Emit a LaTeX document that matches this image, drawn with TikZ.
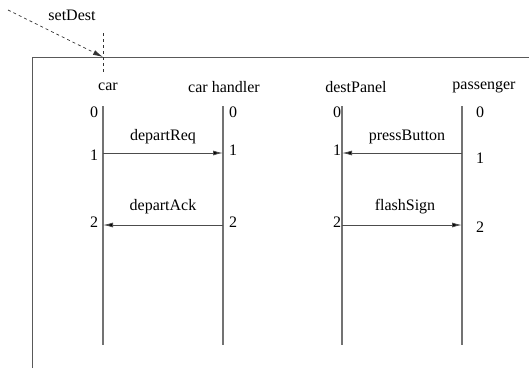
\documentclass[tikz,border=0pt]{standalone}
\usepackage{fontspec}
\setmainfont{Liberation Serif}
\usetikzlibrary{arrows.meta}

\begin{document}
\begin{tikzpicture}[x=1pt, y=-1pt,
    every node/.style={font=\fontsize{16}{18}\selectfont, inner sep=0pt},
    lifeline/.style={draw=black!55, line width=1.3pt},
    msg/.style={draw=black!70, line width=0.9pt, -{Latex[length=10pt,width=5pt,fill=black]}}]
  \useasboundingbox (0,0) rectangle (529,368);

  % frame of the scenario
  \draw[black!65, line width=0.9pt] (32,368) -- (32,57) -- (529,57);

  % incoming trigger
  \coordinate (entry) at (8,10);
  \coordinate (gate) at (103,57);
  \coordinate (gate top) at (103,33);
  \coordinate (gate bot) at (103,75);
  \node (setdest) at (72,15) {setDest};
  \draw[dashed, black!80, line width=0.7pt, -{Latex[length=10pt,width=5pt]}] (entry) -- (gate);
  \draw[dashed, black!80, line width=0.7pt] (gate top) -- (gate bot);

  % instances
  \node (car) at (108,87) {car};
  \node (handler) at (224,87) {car handler};
  \node (panel) at (356,87) {destPanel};
  \node (pass) at (484,87) {passenger};

  \coordinate (car top) at (103,106);
  \coordinate (car bot) at (103,345);
  \coordinate (handler top) at (223,106);
  \coordinate (handler bot) at (223,345);
  \coordinate (panel top) at (342,106);
  \coordinate (panel bot) at (342,345);
  \coordinate (pass top) at (462,106);
  \coordinate (pass bot) at (462,345);

  \draw[lifeline] (car top) -- (car bot);
  \draw[lifeline] (handler top) -- (handler bot);
  \draw[lifeline] (panel top) -- (panel bot);
  \draw[lifeline] (pass top) -- (pass bot);

  % event numbers
  \node (car0) at (94,112) {0};
  \node (car1) at (94,155) {1};
  \node (car2) at (94,222) {2};
  \node (handler0) at (233,112) {0};
  \node (handler1) at (233,150) {1};
  \node (handler2) at (233,222) {2};
  \node (panel0) at (337,112) {0};
  \node (panel1) at (337,150) {1};
  \node (panel2) at (337,222) {2};
  \node (pass0) at (480,112) {0};
  \node (pass1) at (480,158) {1};
  \node (pass2) at (480,227) {2};

  % messages
  \coordinate (req a) at (103,153);
  \coordinate (req b) at (223,153);
  \coordinate (ack a) at (223,225);
  \coordinate (ack b) at (103,225);
  \coordinate (press a) at (462,153);
  \coordinate (press b) at (342,153);
  \coordinate (flash a) at (342,225);
  \coordinate (flash b) at (462,225);

  \draw[msg] (req a) -- (req b);
  \draw[msg] (ack a) -- (ack b);
  \draw[msg] (press a) -- (press b);
  \draw[msg] (flash a) -- (flash b);

  \node (departreq) at (163,137) {departReq};
  \node (departack) at (163,207) {departAck};
  \node (pressbutton) at (407,137) {pressButton};
  \node (flashsign) at (405,207) {flashSign};
\end{tikzpicture}
\end{document}
